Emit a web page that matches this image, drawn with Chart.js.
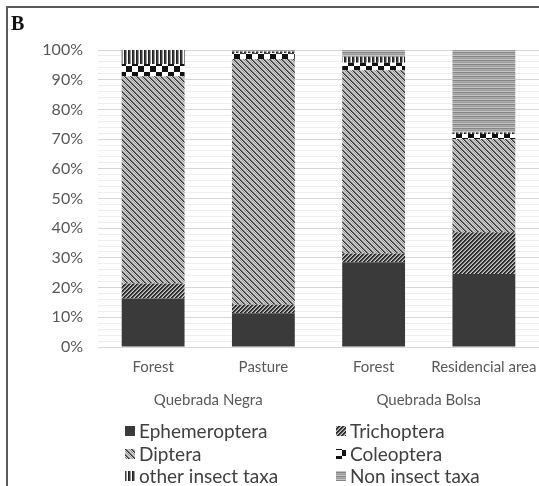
<!DOCTYPE html>
<html><head><meta charset="utf-8">
<script src="https://cdn.jsdelivr.net/npm/chart.js@4/dist/chart.umd.min.js"></script>
<style>html,body{margin:0;padding:0;background:#fff;}#wrap{position:relative;width:539px;height:486px;}</style>
</head><body><div id="wrap"><canvas id="c" width="539" height="486"></canvas></div>
<script>
// ---- data ----
const categories = ['Forest', 'Pasture', 'Forest', 'Residencial area'];
const groups = ['Quebrada Negra', 'Quebrada Bolsa'];
const seriesNames = ['Ephemeroptera', 'Trichoptera', 'Diptera', 'Coleoptera', 'other insect taxa', 'Non insect taxa'];
const ephemeroptera = [16.3, 11.4, 28.5, 24.6];
const trichoptera   = [5.1, 2.8, 3.0, 14.0];
const diptera       = [69.8, 82.8, 61.7, 31.4];
const coleoptera    = [4.1, 1.9, 2.5, 1.7];
const otherInsects  = [4.7, 0.6, 2.0, 0.5];
const nonInsects    = [0.0, 0.5, 2.3, 27.8];
const yTickLabels = ['0%','10%','20%','30%','40%','50%','60%','70%','80%','90%','100%'];

const FONT = 'Lato';
const canvas = document.getElementById('c');
const mainCtx = canvas.getContext('2d');

function pixelPattern(w, h, colorAt) {
  const c = document.createElement('canvas');
  c.width = w; c.height = h;
  const g = c.getContext('2d');
  for (let y = 0; y < h; y++) for (let x = 0; x < w; x++) {
    g.fillStyle = colorAt(x, y); g.fillRect(x, y, 1, 1);
  }
  return mainCtx.createPattern(c, 'repeat');
}
const mod = (a, n) => ((a % n) + n) % n;
const pDiptera = pixelPattern(6, 6, (x, y) => ['#303030', '#707070', '#c4c4c4', '#cccccc', '#979797', '#d2d2d2'][mod(x - y, 6)]);
const pTrich = pixelPattern(4, 4, (x, y) => ['#262626', '#363636', '#8a8a8a', '#c8c8c8'][mod(x + y, 4)]);
const pColeo = pixelPattern(12, 12, (x, y) => ((Math.floor(x / 6) + Math.floor(y / 6)) % 2 === 0) ? '#111111' : '#ffffff');
const pOther = pixelPattern(4, 4, (x, y) => ['#222222', '#3c3c3c', '#9a9a9a', '#ffffff'][x]);
const pNon = pixelPattern(4, 4, (x, y) => ['#858585', '#acacac', '#9c9c9c', '#c4c4c4'][y]);

const seriesValues = [ephemeroptera, trichoptera, diptera, coleoptera, otherInsects, nonInsects];
const seriesFills = ['#3a3a3a', pTrich, pDiptera, pColeo, pOther, pNon];

const datasets = seriesNames.map((n, i) => ({
  label: n, data: seriesValues[i], backgroundColor: seriesFills[i],
  borderWidth: 0, categoryPercentage: 0.57, barPercentage: 1.0, xAxisID: 'x', stack: 's'
}));

const decor = {
  id: 'decor',
  afterDraw(chart) {
    const ctx = chart.ctx;
    ctx.save();
    // frame
    ctx.fillStyle = '#5a5a5a';
    ctx.fillRect(6, 6, 2, 480);
    ctx.fillRect(6, 6, 533, 2);
    // panel letter
    ctx.fillStyle = '#111';
    ctx.font = 'bold 20px "Liberation Serif"';
    ctx.textBaseline = 'alphabetic';
    ctx.textAlign = 'left';
    ctx.fillText('B', 11, 30);
    // legend (2 columns x 3 rows)
    const colX = [125, 336];
    const rowY = [431, 454, 476];
    ctx.font = '19px ' + FONT;
    ctx.textBaseline = 'middle';
    chart.data.datasets.forEach((ds, i) => {
      const x = colX[i % 2], y = rowY[Math.floor(i / 2)];
      ctx.fillStyle = ds.backgroundColor;
      ctx.fillRect(x, y - 5, 10, 10);
      ctx.fillStyle = '#404040';
      ctx.fillText(ds.label, x + 14, y + 1);
    });
    ctx.restore();
  }
};

const noSidePad = (scale) => { scale.paddingLeft = 0; scale.paddingRight = 0; };

new Chart(canvas, {
  type: 'bar',
  data: { labels: categories, datasets },
  options: {
    responsive: false, animation: false,
    layout: { padding: { top: 50, left: 28, right: 0, bottom: 73 } },
    plugins: { legend: { display: false }, tooltip: { enabled: false } },
    scales: {
      x: {
        stacked: true,
        grid: { display: false, drawTicks: false }, border: { display: false },
        afterFit: noSidePad,
        ticks: { color: '#595959', font: { family: FONT, size: 15 }, padding: 11, maxRotation: 0, autoSkip: false }
      },
      x2: {
        type: 'category', labels: groups, position: 'bottom', offset: true,
        grid: { display: false, drawTicks: false }, border: { display: false },
        afterFit: noSidePad,
        ticks: { color: '#595959', font: { family: FONT, size: 15 }, padding: 4, maxRotation: 0 }
      },
      y: {
        stacked: true, min: 0, max: 100,
        border: { display: false },
        afterFit: (s) => { s.width = 70; s.paddingTop = 0; s.paddingBottom = 0; },
        grid: {
          drawTicks: false,
          color: (c) => (c.tick && c.tick.value % 10 === 0) ? '#d6d6d6' : '#eeeeee',
          lineWidth: 1
        },
        ticks: {
          stepSize: 2, autoSkip: false, maxTicksLimit: 100, padding: 15,
          color: '#595959', font: { family: FONT, size: 16 },
          callback: (v) => (v % 10 === 0) ? yTickLabels[v / 10] : ''
        }
      }
    }
  },
  plugins: [decor]
});
</script></body></html>
